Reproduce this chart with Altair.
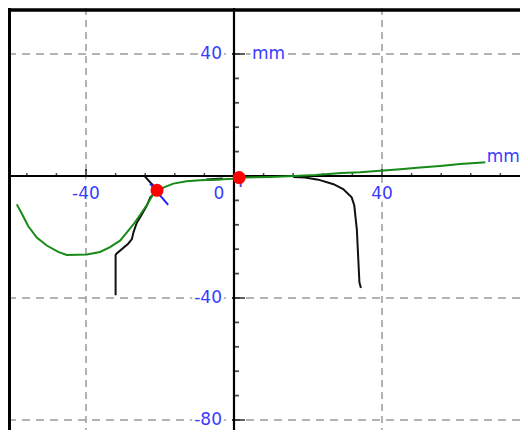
import altair as alt
import pandas as pd

# ---- data ----
green_x = [-58.7, -57.4, -55.6, -53.3, -50.6, -47.5, -45.2, -39.8, -36.2, -33.5, -30.8, -29.0,
           -27.2, -25.4, -23.6, -21.8, -19.1, -16.4, -12.8, -9.2, -5.6, -0.2, 3.0, 10.0, 17.8,
           22.0, 29.1, 34.0, 39.5, 44.9, 50.3, 55.7, 61.1, 67.2, 77.3]
green_y = [-9.3, -12.2, -16.5, -20.2, -22.8, -24.9, -25.9, -25.7, -24.9, -23.3, -21.2, -18.6,
           -15.9, -12.8, -9.6, -5.9, -3.8, -2.5, -1.7, -1.4, -1.2, -0.9, -0.5, -0.3, 0.1,
           0.3, 0.95, 1.2, 1.7, 2.2, 2.75, 3.3, 3.9, 4.4, 5.3]

black_left_x = [-24.1, -21.5, -20.8, -22.6, -23.6, -25.0, -26.3, -27.2, -27.6, -28.6, -31.7, -32.0, -32.0]
black_left_y = [-0.1, -3.6, -4.7, -7.0, -9.8, -12.8, -15.4, -18.6, -20.7, -22.2, -25.4, -25.9, -39.1]

black_mid_x = [-7.5, -3.0]
black_mid_y = [-1.2, -0.9]

black_right_x = [16.0, 19.2, 22.8, 26.9, 29.5, 31.8, 32.5, 33.2, 33.9, 34.3]
black_right_y = [-0.3, -0.5, -1.2, -2.7, -4.3, -7.0, -9.6, -17.5, -34.9, -36.7]

blue_x = [-22.7, -17.8]
blue_y = [-2.5, -9.5]

purple_x = [1.8, 1.8]
purple_y = [-1.2, -3.6]

marker_x = [-20.8, 1.4]
marker_y = [-4.7, -0.5]

grid_x = [-40, 40]
grid_y = [40, -40, -80]

x_minor = [-56, -48, -32, -24, -16, -8, 8, 16, 24, 32, 48, 56, 64, 72]
x_major = [-40, 40]
y_minor = [32, 24, 16, 8, -8, -16, -24, -32, -48, -56, -64, -72]
y_major = [40, -40, -80]

x_labels = [-40, 0, 40]
y_labels = [40, -40, -80]
unit_label = "mm"

# ---- chart ----
W, H = 512, 422
xs = alt.Scale(domain=[-61.08, 77.30], nice=False, zero=False)
ys = alt.Scale(domain=[-83.28, 55.08], nice=False, zero=False)
BLUE = "#3a3aff"
FONT = "DejaVu Sans"


def X(f="x"):
    return alt.X(f"{f}:Q", scale=xs, axis=None)


def Y(f="y"):
    return alt.Y(f"{f}:Q", scale=ys, axis=None)


def path(xv, yv):
    return pd.DataFrame({"x": xv, "y": yv, "i": list(range(len(xv)))})


layers = []

# grid
layers.append(alt.Chart(pd.DataFrame({"x": grid_x})).mark_rule(
    color="#9a9a9a", strokeWidth=1.5, strokeDash=[7, 5]).encode(x=X()))
layers.append(alt.Chart(pd.DataFrame({"y": grid_y})).mark_rule(
    color="#9a9a9a", strokeWidth=1.5, strokeDash=[8, 6]).encode(y=Y()))

# axes through origin
layers.append(alt.Chart(pd.DataFrame({"x": [0]})).mark_rule(
    color="black", strokeWidth=2.2).encode(x=X()))
layers.append(alt.Chart(pd.DataFrame({"y": [0]})).mark_rule(
    color="black", strokeWidth=1.8).encode(y=Y()))

# frame (left and top)
layers.append(alt.Chart(pd.DataFrame({"y": [0]})).mark_rule(
    color="black", strokeWidth=3).encode(x=alt.value(1.5), y=alt.value(0), y2=alt.value(H)))
layers.append(alt.Chart(pd.DataFrame({"y": [0]})).mark_rule(
    color="black", strokeWidth=3.4).encode(y=alt.value(2), x=alt.value(0), x2=alt.value(W)))

# ticks
layers.append(alt.Chart(pd.DataFrame({"x": x_minor, "y": [0] * len(x_minor)})).mark_tick(
    orient="vertical", size=3, thickness=1.5, yOffset=-1.5, color="black").encode(x=X(), y=Y()))
layers.append(alt.Chart(pd.DataFrame({"x": x_major, "y": [0] * len(x_major)})).mark_tick(
    orient="vertical", size=7, thickness=1.8, yOffset=-3.5, color="black").encode(x=X(), y=Y()))
layers.append(alt.Chart(pd.DataFrame({"x": [0] * len(y_minor), "y": y_minor})).mark_tick(
    orient="horizontal", size=5, thickness=1.8, xOffset=2.5, color="black").encode(x=X(), y=Y()))
layers.append(alt.Chart(pd.DataFrame({"x": [0] * len(y_major), "y": y_major})).mark_tick(
    orient="horizontal", size=13, thickness=1.8, xOffset=4.5, color="black").encode(x=X(), y=Y()))

# curves
for xv, yv, col, sw in [
    (black_left_x, black_left_y, "#111111", 2),
    (black_mid_x, black_mid_y, "#111111", 2.5),
    (black_right_x, black_right_y, "#111111", 2),
    (green_x, green_y, "#178a17", 2),
    (blue_x, blue_y, "#2020ff", 2),
    (purple_x, purple_y, "#6a3cc8", 2),
]:
    layers.append(alt.Chart(path(xv, yv)).mark_line(color=col, strokeWidth=sw).encode(
        x=X(), y=Y(), order="i:Q"))

# red markers
layers.append(alt.Chart(pd.DataFrame({"x": marker_x, "y": marker_y})).mark_point(
    shape="circle", filled=True, color="#ff0000", size=170, opacity=1).encode(x=X(), y=Y()))

# labels (white halo + blue text)
xl = pd.DataFrame({"x": x_labels, "y": [0] * len(x_labels),
                   "t": [str(v) for v in x_labels],
                   "dx": [0 if v != 0 else -15 for v in x_labels]})
yl = pd.DataFrame({"x": [0] * len(y_labels), "y": y_labels, "t": [str(v) for v in y_labels]})
ul = pd.DataFrame({"x": [0, 68.3], "y": [40, 0], "t": [unit_label, unit_label],
                   "dx": [18, 0], "dy": [0, -19]})

for halo in (True, False):
    kw = dict(font=FONT, fontSize=17, baseline="middle")
    if halo:
        kw.update(color="white", stroke="white", strokeWidth=6)
    else:
        kw.update(color=BLUE)
    for _, r in xl.iterrows():
        layers.append(alt.Chart(pd.DataFrame([r])).mark_text(
            align="center", dx=float(r["dx"]), dy=18, **kw).encode(x=X(), y=Y(), text="t:N"))
    layers.append(alt.Chart(yl).mark_text(align="right", dx=-12, **kw).encode(
        x=X(), y=Y(), text="t:N"))
    for _, r in ul.iterrows():
        layers.append(alt.Chart(pd.DataFrame([r])).mark_text(
            align="left", dx=float(r["dx"]), dy=float(r["dy"]), **kw).encode(
            x=X(), y=Y(), text="t:N"))

chart = alt.layer(*layers).properties(
    width=W, height=H, autosize=alt.AutoSizeParams(type="none"), padding=0,
    background="white"
).configure_view(strokeWidth=0)

chart.save("out.html", embed_options={"renderer": "svg", "actions": False})
